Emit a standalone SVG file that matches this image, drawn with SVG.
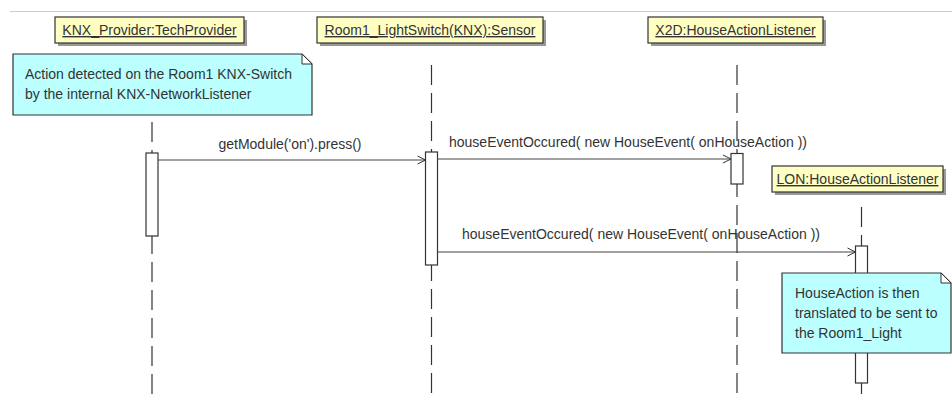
<svg xmlns="http://www.w3.org/2000/svg" width="952" height="394" viewBox="0 0 952 394">
<defs>
<marker id="open" markerWidth="10" markerHeight="10" refX="9" refY="5" orient="auto" markerUnits="userSpaceOnUse">
<path d="M1,1 L9,5 L1,9" fill="none" stroke="#333" stroke-width="1"/>
</marker>
</defs>
<style>
text{font-family:"Liberation Sans",Arial,sans-serif;font-size:14px;fill:#333}
.hdr{fill:#ffffc4;stroke:#333;stroke-width:1.2}
.shadow{fill:#999}
.htxt{text-decoration:underline;text-anchor:middle}
.life{stroke:#333;stroke-width:1.2;stroke-dasharray:20 8;fill:none}
.act{fill:#fff;stroke:#333;stroke-width:1.2}
.note{fill:#bbffff;stroke:#333;stroke-width:1.2}
.fold{fill:#fff;stroke:#333;stroke-width:1}
.msg{stroke:#444;stroke-width:1.2;fill:none;marker-end:url(#open)}
.mtxt{text-anchor:middle}
</style>
<rect width="952" height="394" fill="#fff"/>
<line x1="10" y1="11.5" x2="952" y2="11.5" stroke="#ccc" stroke-width="1"/>

<g id="lifelines">
<line class="life" x1="152" y1="122" x2="152" y2="394"/>
<line class="life" x1="431.5" y1="65" x2="431.5" y2="394"/>
<line class="life" x1="737" y1="65" x2="737" y2="394"/>
<line class="life" x1="861.5" y1="207" x2="861.5" y2="394"/>
</g>

<g id="knx">
<rect class="shadow" x="58" y="20" width="189" height="26"/>
<rect class="hdr" x="55" y="17" width="189" height="26"/>
<text class="htxt" x="149.5" y="35">KNX_Provider:TechProvider</text>
<rect class="act" x="146" y="153" width="12" height="83"/>
</g>

<g id="room1">
<rect class="shadow" x="320" y="20" width="226" height="26"/>
<rect class="hdr" x="317" y="17" width="226" height="26"/>
<text class="htxt" x="430" y="35">Room1_LightSwitch(KNX):Sensor</text>
<rect class="act" x="425.5" y="152" width="12" height="113"/>
</g>

<g id="x2d">
<rect class="shadow" x="651" y="20" width="175" height="26"/>
<rect class="hdr" x="648" y="17" width="175" height="26"/>
<text class="htxt" x="735.5" y="35">X2D:HouseActionListener</text>
<rect class="act" x="731" y="153.5" width="12" height="30.5"/>
</g>

<g id="lon">
<rect class="shadow" x="775" y="169" width="171" height="26"/>
<rect class="hdr" x="772" y="166" width="171" height="26"/>
<text class="htxt" x="857.5" y="184">LON:HouseActionListener</text>
<rect class="act" x="855.5" y="246" width="12" height="137"/>
</g>

<g id="note1">
<path class="note" d="M13,54 H302 L312,64 V115 H13 Z"/>
<path class="fold" d="M302,54 V64 H312 Z"/>
<text x="25" y="79">Action detected on the Room1 KNX-Switch</text>
<text x="25" y="99">by the internal KNX-NetworkListener</text>
</g>

<g id="note2">
<path class="note" d="M782,273 H941 L951,283 V353 H782 Z"/>
<path class="fold" d="M941,273 V283 H951 Z"/>
<text x="795" y="298">HouseAction is then</text>
<text x="795" y="318">translated to be sent to</text>
<text x="795" y="338">the Room1_Light</text>
</g>

<g id="connectors">
<line class="msg" x1="158" y1="160" x2="425.5" y2="160"/>
<text class="mtxt" x="290" y="149">getModule('on').press()</text>
<line class="msg" x1="437.5" y1="159" x2="731" y2="159"/>
<text class="mtxt" x="628" y="147">houseEventOccured( new HouseEvent( onHouseAction ))</text>
<line class="msg" x1="437.5" y1="252" x2="855.5" y2="252"/>
<text class="mtxt" x="641" y="239">houseEventOccured( new HouseEvent( onHouseAction ))</text>
</g>
</svg>
